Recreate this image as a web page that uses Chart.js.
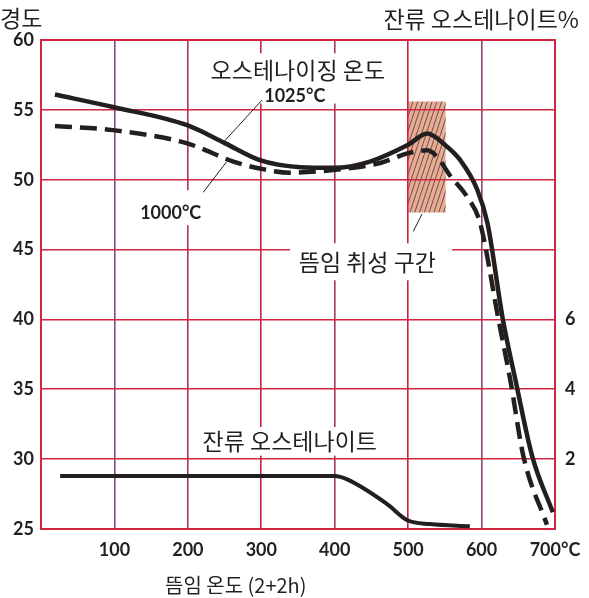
<!DOCTYPE html>
<html><head><meta charset="utf-8">
<script src="https://cdn.jsdelivr.net/npm/chart.js@4.4.1/dist/chart.umd.min.js"></script>
<style>html,body{margin:0;padding:0;background:#fff;overflow:hidden}</style>
</head><body>
<canvas id="c" width="589" height="598"></canvas>
<script>
// ---- data ----
const xTickValues = [0, 100, 200, 300, 400, 500, 600, 700];
const yTickValues = [25, 30, 35, 40, 45, 50, 55, 60];
const rightTickLabels = [2, 4, 6];

// hardness, austenitized at 1025°C (solid)
const temps1025 = [19, 98, 199, 251, 298, 353, 399, 448, 500, 526, 550, 571, 594, 608, 629, 646, 669, 697];
const hard1025  = [56.1, 55.2, 53.9, 52.6, 51.4, 50.9, 50.85, 51.3, 52.5, 53.3, 52.5, 51.4, 49.3, 46.9, 40.0, 35.7, 30.2, 26.2];

// hardness, austenitized at 1000°C (dashed)
const temps1000 = [19, 98, 199, 262, 298, 339, 398, 462, 500, 526, 540, 557, 580, 598, 623, 639, 657, 689];
const hard1000  = [53.85, 53.55, 52.6, 51.3, 50.8, 50.5, 50.7, 51.2, 51.9, 52.1, 51.6, 50.3, 48.8, 46.9, 40.0, 35.7, 30.2, 25.3];

// retained austenite % (right axis)
const tempsRA = [26, 400, 417, 471, 499, 530, 584];
const retainedAustenite = [1.52, 1.52, 1.42, 0.72, 0.25, 0.14, 0.08];

// temper-embrittlement range
const embrittleTemps = [500, 551];
const embrittleHard  = [47.65, 55.6];

// texts
const leftAxisTitle = '경도';
const rightAxisTitle = '잔류 오스테나이트%';
const xAxisTitle = '뜸임 온도 (2+2h)';
const labelAustenitizing = '오스테나이징 온도';
const label1025 = '1025°C';
const label1000 = '1000°C';
const labelEmbrittle = '뜸임 취성 구간';
const labelRA = '잔류 오스테나이트';

// ---- styles ----
const INK = '#231f20';
const GRID_RED = '#d2253f';
const NUM_FONT = 'Lato, "Open Sans", sans-serif';
const KR_FONT = '"Noto Sans CJK KR", sans-serif';
const NUM_SIZE = 18;
const vGridColors = {0: GRID_RED, 100: '#7f4d7c', 200: '#a7365c', 300: '#c9213e', 400: '#a7365c', 500: '#c9213e', 600: '#8b4472', 700: GRID_RED};

const pts = (xs, ys) => xs.map((v, i) => ({x: v, y: ys[i]}));

const decor = {
  id: 'decor',
  beforeDraw(chart) {
    const {ctx, scales: {x, y}} = chart;
    const x0 = x.getPixelForValue(embrittleTemps[0]), x1 = x.getPixelForValue(embrittleTemps[1]);
    const y0 = y.getPixelForValue(embrittleHard[1]), y1 = y.getPixelForValue(embrittleHard[0]);
    ctx.save();
    ctx.fillStyle = '#e8ac95';
    ctx.fillRect(x0, y0, x1 - x0, y1 - y0);
    ctx.beginPath(); ctx.rect(x0, y0, x1 - x0, y1 - y0); ctx.clip();
    ctx.strokeStyle = '#6a514a'; ctx.lineWidth = 1;
    const h = y1 - y0, slope = 0.33;
    ctx.beginPath();
    for (let k = x0 - h * slope; k < x1 + 2; k += 4.8) {
      ctx.moveTo(k, y1); ctx.lineTo(k + h * slope, y0);
    }
    ctx.stroke();
    ctx.restore();
  },
  beforeDatasetsDraw(chart) {
    const {ctx, chartArea: a, scales: {x, y}} = chart;
    ctx.save();
    ctx.strokeStyle = GRID_RED; ctx.lineWidth = 2;
    ctx.strokeRect(a.left, a.top, a.right - a.left, a.bottom - a.top);
    ctx.fillStyle = '#fff';
    const boxes = [
      [223, 478, 59.05, 55.45],
      [128, 252, 49.25, 46.75],
      [339, 560, 45.45, 42.8],
      [210, 470, 32.3, 30.25]
    ];
    boxes.forEach(([xa, xb, ya, yb]) => {
      const px = x.getPixelForValue(xa), py = y.getPixelForValue(ya);
      ctx.fillRect(px, py, x.getPixelForValue(xb) - px, y.getPixelForValue(yb) - py);
    });
    ctx.restore();
  },
  afterDatasetsDraw(chart) {
    const {ctx, scales: {x, y}} = chart;
    ctx.save();
    ctx.strokeStyle = INK; ctx.lineWidth = 1;
    const leaders = [[301, 55.7, 247, 52.6], [253, 51.3, 221, 49.1], [519, 47.55, 507, 46.3]];
    leaders.forEach(([xa, ya, xb, yb]) => {
      ctx.beginPath();
      ctx.moveTo(x.getPixelForValue(xa), y.getPixelForValue(ya));
      ctx.lineTo(x.getPixelForValue(xb), y.getPixelForValue(yb));
      ctx.stroke();
    });
    ctx.fillStyle = INK; ctx.textAlign = 'left'; ctx.textBaseline = 'middle';
    const txt = (s, xv, yv, font) => { ctx.font = font; ctx.fillText(s, x.getPixelForValue(xv), y.getPixelForValue(yv)); };
    txt(labelAustenitizing, 231, 57.85, '23px ' + KR_FONT);
    txt(label1025, 304, 55.95, 'bold ' + NUM_SIZE + 'px ' + NUM_FONT);
    txt(label1000, 135, 47.6, 'bold ' + NUM_SIZE + 'px ' + NUM_FONT);
    txt(labelEmbrittle, 351, 44.1, '23px ' + KR_FONT);
    txt(labelRA, 220, 31.3, '23px ' + KR_FONT);
    ctx.restore();
  },
  afterDraw(chart) {
    const {ctx} = chart;
    ctx.save();
    ctx.fillStyle = INK; ctx.textBaseline = 'middle';
    ctx.font = '23px ' + KR_FONT;
    ctx.textAlign = 'left';
    ctx.fillText(leftAxisTitle, 0, 18);
    ctx.textAlign = 'right';
    ctx.fillText(rightAxisTitle, 579, 19);
    ctx.textAlign = 'left';
    ctx.font = '20px ' + KR_FONT;
    ctx.fillText(xAxisTitle, 165, 585);
    ctx.restore();
  }
};

const tickFont = {family: NUM_FONT, size: NUM_SIZE, weight: 'bold'};

new Chart(document.getElementById('c'), {
  type: 'line',
  data: {
    datasets: [
      {data: pts(temps1025, hard1025), borderColor: INK, borderWidth: 4.5, pointRadius: 0, cubicInterpolationMode: 'monotone', yAxisID: 'y'},
      {data: pts(temps1000, hard1000), borderColor: INK, borderWidth: 4.5, borderDash: [17, 8], pointRadius: 0, cubicInterpolationMode: 'monotone', yAxisID: 'y'},
      {data: pts(tempsRA, retainedAustenite), borderColor: INK, borderWidth: 4, pointRadius: 0, cubicInterpolationMode: 'monotone', yAxisID: 'y1'}
    ]
  },
  options: {
    responsive: false,
    animation: false,
    devicePixelRatio: 1,
    layout: {padding: {top: 40, left: 0, right: 0, bottom: 0}},
    plugins: {legend: {display: false}, tooltip: {enabled: false}},
    scales: {
      x: {
        type: 'linear', min: 0, max: 700,
        afterBuildTicks: s => { s.ticks = xTickValues.map(v => ({value: v})); },
        afterFit: s => { s.height = 69; s.paddingLeft = 0; s.paddingRight = 0; },
        border: {display: false},
        grid: {color: c => vGridColors[c.tick.value] || GRID_RED, lineWidth: 1.6, drawTicks: false},
        ticks: {
          padding: 10, color: INK, font: tickFont, maxRotation: 0, autoSkip: false,
          callback: v => v === 0 ? '' : (v === 700 ? v + '°C' : String(v))
        }
      },
      y: {
        position: 'left', min: 25, max: 60,
        afterBuildTicks: s => { s.ticks = yTickValues.map(v => ({value: v})); },
        afterFit: s => { s.width = 41; s.paddingTop = 0; s.paddingBottom = 0; },
        border: {display: false},
        grid: {color: GRID_RED, lineWidth: 1.6, drawTicks: false},
        ticks: {padding: 7, color: INK, font: tickFont}
      },
      y1: {
        position: 'right', min: 0, max: 14,
        afterBuildTicks: s => { s.ticks = rightTickLabels.map(v => ({value: v})); },
        afterFit: s => { s.width = 34; s.paddingTop = 0; s.paddingBottom = 0; },
        border: {display: false},
        grid: {display: false, drawTicks: false},
        ticks: {padding: 10, color: INK, font: tickFont}
      }
    }
  },
  plugins: [decor]
});
</script>
</body></html>
